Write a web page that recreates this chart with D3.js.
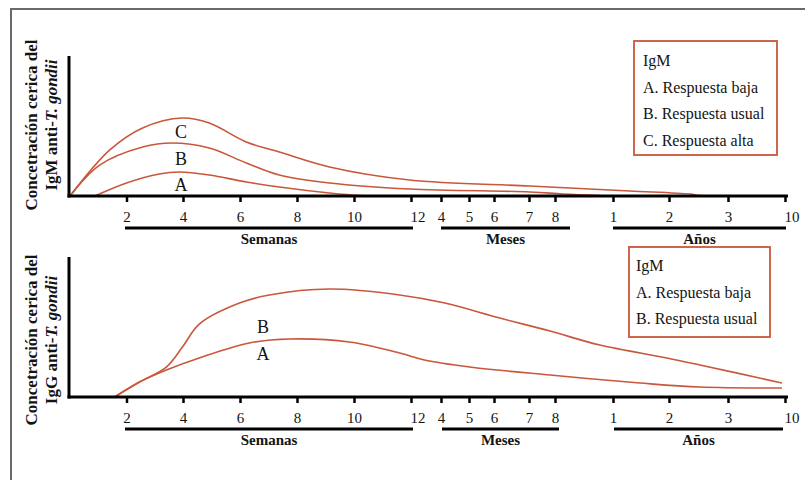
<!DOCTYPE html>
<html>
<head>
<meta charset="utf-8">
<script src="https://cdn.jsdelivr.net/npm/d3@7"></script>
<style>
  body { margin: 0; background: #fff; }
  svg { display: block; }
</style>
</head>
<body>
<svg width="805" height="480"></svg>
<script>
// time axis, all in weeks
const WEEKS_PER_MONTH = 52.18 / 12;
const WEEKS_PER_YEAR = 52.18;
const SERIF = '"Liberation Serif", "Times New Roman", "DejaVu Serif", serif';

const weekTicks = [2, 4, 6, 8, 10, 12];
const monthTicks = [4, 5, 6, 7, 8];
const yearTicks = [1, 2, 3, 10];
const groupLabels = ['Semanas', 'Meses', 'Años'];

// [weeks, relative concentration 0-100]
const igmA = [[0.88, 0], [2.0, 9.3], [3.16, 15.7], [3.87, 17.1], [4.92, 15], [6.22, 10], [7.38, 6.4], [9.14, 2.1], [10.2, 0.3], [11, 0]];
const igmB = [[0, 0], [1.05, 22.1], [2.57, 35], [3.62, 37.9], [4.92, 34.3], [6.22, 23.6], [7.38, 15], [9.14, 9.3], [11.95, 5], [30.6, 2.9], [37.2, 1.4], [48, 0.3], [52, 0]];
const igmC = [[0, 0], [1.41, 32.9], [2.57, 48.6], [3.97, 55.7], [4.92, 52.1], [6.22, 38.6], [7.38, 31.4], [9.14, 20.7], [11.95, 11.4], [30.6, 7.1], [67.9, 3.6], [122.8, 1.4], [131.7, 0.3], [140, 0]];

const iggA = [[1.58, 0], [2.46, 10.7], [3.41, 19.3], [4.57, 27.9], [6.33, 38.6], [7.73, 41.4], [9.84, 39.3], [11.6, 31.4], [14.4, 26.4], [21.9, 21.4], [33.95, 15.7], [77.3, 10], [131.7, 7.1], [502, 6.4]];
const iggB = [[1.58, 0], [2.46, 10.7], [3.41, 21.4], [3.98, 35.7], [4.57, 52.1], [5.98, 67.1], [7.03, 72.9], [9.14, 77.1], [11.6, 72.9], [18.0, 67.1], [26.8, 56.4], [33.95, 47.1], [48.2, 37.1], [102.4, 27.9], [131.7, 22.9], [502, 10]];

const legendIgM = ['IgM', 'A. Respuesta baja', 'B. Respuesta usual', 'C. Respuesta alta'];
const legendIgG = ['IgM', 'A. Respuesta baja', 'B. Respuesta usual'];

const red = '#c9573b';

const tickVals = [
  ...weekTicks,
  ...monthTicks.map(m => m * WEEKS_PER_MONTH),
  ...yearTicks.map(y => y * WEEKS_PER_YEAR)
];
const tickLabels = [...weekTicks, ...monthTicks, ...yearTicks].map(String);

// broken (piecewise) time axis
const x = d3.scaleLinear()
  .domain([0, ...tickVals])
  .range([70, 126.5, 183, 240, 297, 354, 411, 441, 469, 494, 529, 555, 613, 669, 728, 785]);

const svg = d3.select('svg');

// page frame
svg.append('path')
  .attr('d', 'M11,480 V9 H805')
  .attr('fill', 'none')
  .attr('stroke', '#6a6a6a')
  .attr('stroke-width', 2);

const panels = [
  {
    top: 56, bottom: 196, labelY: 125,
    title: ['Concetración cerica del', 'IgM anti-'],
    series: [igmA, igmB, igmC],
    letters: [['A', 191], ['B', 165], ['C', 138]],
    letterX: 181,
    bars: [[125, 413], [441, 570], [613, 786]],
    legend: legendIgM, box: [634, 41, 143, 114], textX: 643, lineY: 66
  },
  {
    top: 257, bottom: 397, labelY: 340,
    title: ['Concetración cerica del', 'IgG anti-'],
    series: [iggA, iggB],
    letters: [['A', 360], ['B', 333]],
    letterX: 263,
    bars: [[125, 413], [442, 559], [614, 783]],
    legend: legendIgG, box: [629, 247, 141, 90], textX: 636, lineY: 271
  }
];

function txt(sel, size, bold) {
  return sel.attr('font-family', SERIF)
    .style('font-family', SERIF)
    .style('font-size', size + 'px')
    .style('font-weight', bold ? 'bold' : 'normal')
    .attr('fill', '#141414');
}

panels.forEach(p => {
  const y = d3.scaleLinear().domain([0, 100]).range([p.bottom, p.top]);
  const g = svg.append('g');

  const line = d3.line()
    .x(d => x(d[0]))
    .y(d => Math.min(y(0), y(d[1])))
    .curve(d3.curveCatmullRom.alpha(0.5));

  g.selectAll('.curve')
    .data(p.series)
    .enter()
    .append('path')
    .classed('curve', true)
    .attr('d', line)
    .attr('fill', 'none')
    .attr('stroke', red)
    .attr('stroke-width', 1.6);

  // y axis, no ticks
  g.append('line')
    .attr('x1', 69).attr('x2', 69)
    .attr('y1', y(100)).attr('y2', y(0) + 1.5)
    .attr('stroke', '#000').attr('stroke-width', 3);

  // x axis
  const axis = d3.axisBottom(x)
    .tickValues(tickVals)
    .tickFormat((d, i) => tickLabels[i])
    .tickSize(6)
    .tickPadding(9);

  const ax = g.append('g')
    .attr('transform', `translate(0,${y(0)})`)
    .call(axis);
  ax.select('.domain').remove();
  ax.selectAll('.tick line').attr('stroke', '#000').attr('stroke-width', 2.5);
  txt(ax.selectAll('.tick text'), 15, false)
    .filter((d, i) => tickLabels[i] === '12' || (tickLabels[i] === '10' && i > 5))
    .attr('text-anchor', 'start')
    .attr('dx', -1);

  g.append('line')
    .attr('x1', 67.5).attr('x2', 788)
    .attr('y1', y(0)).attr('y2', y(0))
    .attr('stroke', '#000').attr('stroke-width', 3);

  // group bars under tick labels
  p.bars.forEach((b, i) => {
    g.append('line')
      .attr('x1', b[0]).attr('x2', b[1])
      .attr('y1', y(0) + 32).attr('y2', y(0) + 32)
      .attr('stroke', '#000').attr('stroke-width', 3);
    txt(g.append('text'), 15, true)
      .attr('x', (b[0] + b[1]) / 2)
      .attr('y', y(0) + 48)
      .attr('text-anchor', 'middle')
      .text(groupLabels[i]);
  });

  // curve letters
  txt(g.selectAll('.letter')
    .data(p.letters)
    .enter()
    .append('text')
    .classed('letter', true), 18, false)
    .attr('x', p.letterX)
    .attr('y', d => d[1])
    .attr('text-anchor', 'middle')
    .text(d => d[0]);

  // rotated y title
  txt(g.append('text'), 17, true)
    .attr('transform', `translate(37,${p.labelY}) rotate(-90)`)
    .attr('text-anchor', 'middle')
    .text(p.title[0]);
  const t2 = txt(g.append('text'), 17, true)
    .attr('transform', `translate(57,${p.labelY}) rotate(-90)`)
    .attr('text-anchor', 'middle');
  t2.append('tspan').text(p.title[1]);
  t2.append('tspan').style('font-style', 'italic').text('T. gondii');

  // legend box
  g.append('rect')
    .attr('x', p.box[0]).attr('y', p.box[1])
    .attr('width', p.box[2]).attr('height', p.box[3])
    .attr('fill', '#fff')
    .attr('stroke', red)
    .attr('stroke-width', 1.8);

  txt(g.selectAll('.leg')
    .data(p.legend)
    .enter()
    .append('text')
    .classed('leg', true), 16, false)
    .attr('x', p.textX)
    .attr('y', (d, i) => p.lineY + i * 26.7)
    .text(d => d);
});
</script>
</body>
</html>
